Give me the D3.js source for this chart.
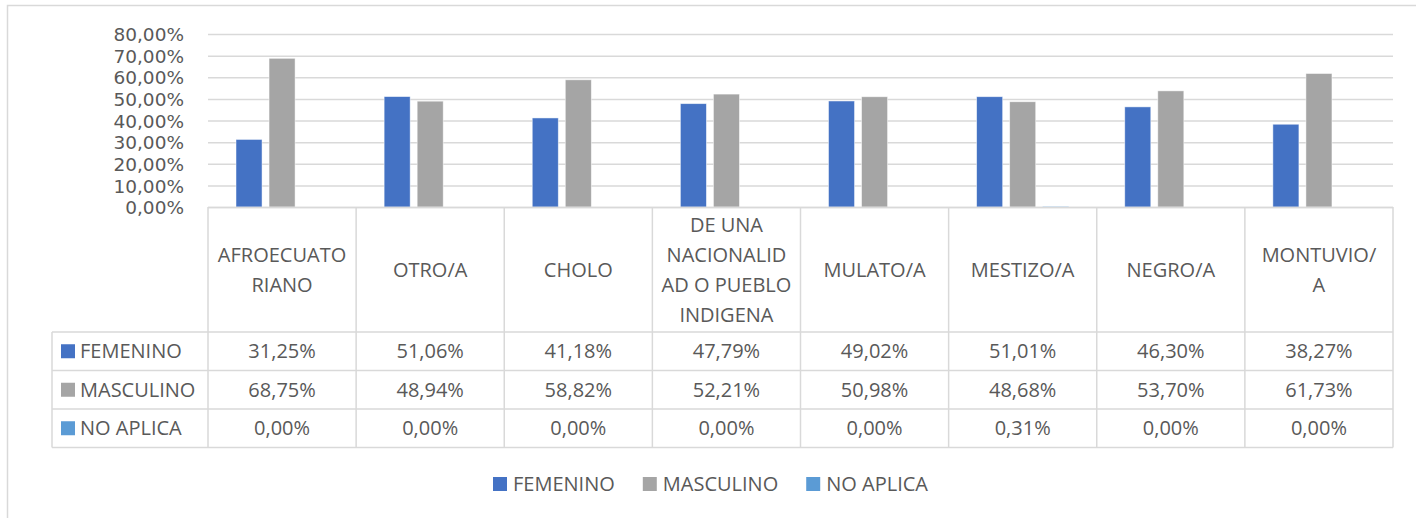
<!DOCTYPE html>
<html>
<head>
<meta charset="utf-8">
<script src="https://cdn.jsdelivr.net/npm/d3@7"></script>
<style>
  html, body { margin: 0; padding: 0; background: #fff; }
  svg { display: block; font-family: "Open Sans", "Noto Sans", sans-serif; }
</style>
</head>
<body>
<svg id="chart" width="1416" height="518"></svg>
<script>
// ---- data ----
const categories = ["AFROECUATORIANO", "OTRO/A", "CHOLO", "DE UNA NACIONALIDAD O PUEBLO INDIGENA", "MULATO/A", "MESTIZO/A", "NEGRO/A", "MONTUVIO/A"];
const categoryLines = [["AFROECUATO", "RIANO"], ["OTRO/A"], ["CHOLO"], ["DE UNA", "NACIONALID", "AD O PUEBLO", "INDIGENA"], ["MULATO/A"], ["MESTIZO/A"], ["NEGRO/A"], ["MONTUVIO/", "A"]];
const seriesNames = ["FEMENINO", "MASCULINO", "NO APLICA"];
const femenino  = [0.3125, 0.5106, 0.4118, 0.4779, 0.4902, 0.5101, 0.4630, 0.3827];
const masculino = [0.6875, 0.4894, 0.5882, 0.5221, 0.5098, 0.4868, 0.5370, 0.6173];
const noAplica  = [0.0000, 0.0000, 0.0000, 0.0000, 0.0000, 0.0031, 0.0000, 0.0000];
const yTicks = [0, 0.1, 0.2, 0.3, 0.4, 0.5, 0.6, 0.7, 0.8];
const seriesColors = ["#4472C4", "#A5A5A5", "#5B9BD5"];

const seriesValues = [femenino, masculino, noAplica];

// ---- layout ----
const svg = d3.select("#chart");
const plotLeft = 208, plotRight = 1393, plotTop = 34, plotBottom = 207;
const headerBottom = 332, rowH = 38.5, tableLeft = 52;
const gridColor = "#D9D9D9", textColor = "#595959";
const fontSize = 20;

const locale = d3.formatLocale({decimal: ",", thousands: ".", grouping: [3], currency: ["", "€"]});
const pct = locale.format(".2%");

const x = d3.scaleBand().domain(categories).range([plotLeft, plotRight]).padding(0);
const xs = d3.scaleBand().domain(seriesNames).range([28, x.bandwidth() - 28]).paddingInner(0.212);
const y = d3.scaleLinear().domain([0, 0.8]).range([plotBottom, plotTop]);

// outer chart border
svg.append("path").attr("d", `M7.5,518 L7.5,5.5 L1416,5.5`).attr("fill", "none")
  .attr("stroke", gridColor).attr("stroke-width", 1.5);

// gridlines + y axis labels
const yAxis = d3.axisLeft(y).tickValues(yTicks).tickFormat(pct).tickSize(-(plotRight - plotLeft)).tickPadding(24);
const gy = svg.append("g").attr("transform", `translate(${plotLeft},0)`).call(yAxis);
gy.select(".domain").remove();
gy.selectAll(".tick line").attr("stroke", gridColor).attr("stroke-width", 1.5);
gy.selectAll(".tick text").attr("fill", textColor).attr("font-size", 18.5)
  .attr("font-family", "'DejaVu Sans', sans-serif").attr("dy", "0.36em");

// bars
const groups = svg.append("g").selectAll("g").data(categories).join("g")
  .attr("transform", d => `translate(${x(d)},0)`);
seriesNames.forEach((s, si) => {
  groups.append("rect")
    .attr("x", xs(s))
    .attr("width", xs.bandwidth())
    .attr("y", (d, i) => y(seriesValues[si][i]))
    .attr("height", (d, i) => y(0) - y(seriesValues[si][i]))
    .attr("fill", seriesColors[si])
    .attr("stroke", "#ffffff").attr("stroke-opacity", 0.6).attr("stroke-width", 0.8);
});

// data table
const tbl = svg.append("g");
const lineAttr = sel => sel.attr("stroke", gridColor).attr("stroke-width", 1.5);
const tableBottom = headerBottom + rowH * 3;
lineAttr(tbl.append("line").attr("x1", plotLeft).attr("x2", plotRight).attr("y1", plotBottom + 0.5).attr("y2", plotBottom + 0.5));
for (let r = 0; r <= 3; r++) {
  const yy = headerBottom + r * rowH;
  lineAttr(tbl.append("line").attr("x1", tableLeft).attr("x2", plotRight).attr("y1", yy).attr("y2", yy));
}
lineAttr(tbl.append("line").attr("x1", tableLeft).attr("x2", tableLeft).attr("y1", headerBottom).attr("y2", tableBottom));
categories.forEach(c => {
  lineAttr(tbl.append("line").attr("x1", x(c)).attr("x2", x(c)).attr("y1", plotBottom).attr("y2", tableBottom));
});
lineAttr(tbl.append("line").attr("x1", plotRight).attr("x2", plotRight).attr("y1", plotBottom).attr("y2", tableBottom));

// header labels
const lineGap = 30;
categories.forEach((c, i) => {
  const lines = categoryLines[i];
  const cy = (plotBottom + headerBottom) / 2;
  const t = tbl.append("text").attr("text-anchor", "middle").attr("fill", textColor).attr("font-size", fontSize);
  lines.forEach((ln, j) => {
    t.append("tspan").attr("x", x(c) + x.bandwidth() / 2)
      .attr("y", cy + (j - (lines.length - 1) / 2) * lineGap)
      .attr("dy", "0.36em").text(ln);
  });
});

// rows
seriesNames.forEach((s, si) => {
  const cy = headerBottom + rowH * (si + 0.5);
  tbl.append("rect").attr("x", 61).attr("y", cy - 7).attr("width", 14).attr("height", 14).attr("fill", seriesColors[si]);
  tbl.append("text").attr("x", 80).attr("y", cy).attr("dy", "0.36em").attr("fill", textColor)
    .attr("font-size", fontSize).text(s);
  categories.forEach((c, i) => {
    tbl.append("text").attr("x", x(c) + x.bandwidth() / 2).attr("y", cy).attr("dy", "0.36em")
      .attr("text-anchor", "middle").attr("fill", textColor).attr("font-size", fontSize)
      .text(pct(seriesValues[si][i]));
  });
});

// bottom legend
const legend = svg.append("g").attr("transform", "translate(493,484)");
let lx = 0;
seriesNames.forEach((s, si) => {
  const g = legend.append("g").attr("transform", `translate(${lx},0)`);
  g.append("rect").attr("x", 0).attr("y", -7).attr("width", 14).attr("height", 14).attr("fill", seriesColors[si]);
  const t = g.append("text").attr("x", 20).attr("y", 0).attr("dy", "0.36em").attr("fill", textColor)
    .attr("font-size", fontSize).text(s);
  lx += 20 + t.node().getComputedTextLength() + 28;
});
</script>
</body>
</html>
